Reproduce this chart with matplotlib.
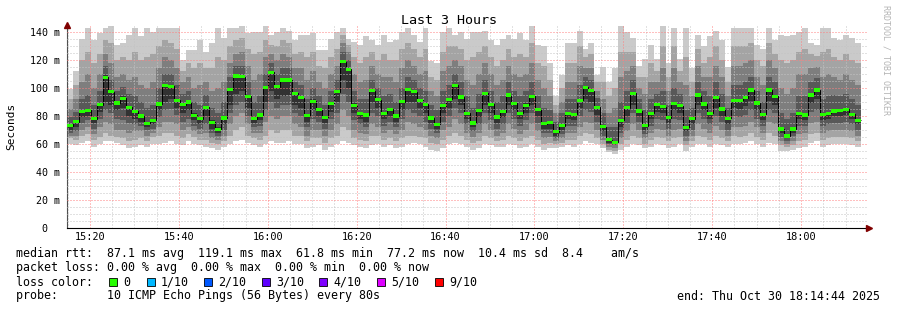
import numpy as np
import matplotlib
matplotlib.use("Agg")
import matplotlib.pyplot as plt
from matplotlib.patches import Rectangle

plt.rcParams['font.family'] = ['DejaVu Sans Mono']

# median rtt per 80 s step (ms)
median = [72.9, 76, 83.3, 84, 77.9, 87.9, 107.6, 97.4, 89.3, 92.6, 86.2, 83.3, 80, 74.8, 77.1, 88.6, 102, 101.2, 91.4, 87.9, 90, 80.5, 77.9, 86.4, 75.5, 70.5, 78.6,
          99.1, 108.6, 108.1, 94, 77.9, 80.7, 100.5, 111.2, 101, 105.7, 105.7, 96.4, 92.9, 80.2, 90.5, 84.5, 79, 89, 97.4, 118.8, 113.3, 87.6, 81.9, 80.7, 97.9, 91.7, 81.9,
          84.8, 80, 90.2, 98.8, 97.4, 91.4, 88.3, 78.6, 74, 87.4, 92.1, 102.1, 93.6, 81.9, 75, 84, 96.4, 88.3, 79.3, 82.9, 95, 89, 82.1, 87.6, 94, 84.8, 74.5,
          75.2, 68.8, 72.9, 81.9, 81.4, 91.2, 100.5, 97.9, 86.2, 72.4, 62.9, 61.4, 76.9, 86, 96.4, 83.6, 73.1, 81.9, 87.9, 86.7, 78.8, 88.8, 87.4, 72.1, 77.9, 95, 88.6,
          82.1, 93.1, 85, 78.3, 91.4, 91.4, 93.1, 98.6, 89.3, 81.2, 98.6, 94, 70.7, 65.7, 70.7, 81.9, 80.7, 95, 98.6, 81.4, 82.1, 83.6, 84, 84.8, 81.2, 76.9]

# sorted pings 1..10 per step (ms)
p1 = [60, 59, 61, 62, 58, 60, 62, 62, 61, 59, 57, 58, 59, 58, 60, 60, 61, 62, 60, 59, 62, 60, 59, 58, 57, 56, 58,
      60, 62, 63, 61, 59, 58, 60, 62, 61, 61, 62, 60, 60, 57, 58, 59, 56, 58, 60, 62, 61, 59, 58, 57, 59, 60, 58,
      59, 57, 58, 60, 61, 60, 58, 56, 55, 57, 60, 61, 60, 58, 56, 57, 60, 59, 58, 58, 60, 59, 57, 58, 60, 58, 56,
      57, 57, 58, 59, 58, 60, 62, 61, 60, 57, 54, 53, 56, 58, 60, 59, 57, 58, 60, 59, 57, 58, 60, 55, 58, 60, 60,
      58, 60, 59, 58, 60, 60, 61, 62, 60, 58, 61, 60, 55, 55, 56, 57, 58, 61, 62, 58, 59, 60, 60, 60, 59, 58]
p2 = [64, 63, 66, 67, 63, 65, 68, 66, 65, 64, 62, 63, 64, 62, 65, 66, 68, 68, 66, 64, 67, 65, 63, 63, 61, 60, 62,
      66, 70, 72, 66, 64, 63, 66, 70, 68, 70, 70, 66, 66, 62, 64, 64, 61, 64, 66, 72, 70, 64, 63, 62, 66, 66, 63,
      64, 62, 64, 66, 66, 65, 64, 61, 60, 63, 66, 68, 66, 63, 61, 62, 66, 64, 62, 63, 66, 64, 62, 64, 66, 63, 60,
      61, 60, 61, 63, 63, 66, 68, 67, 64, 60, 56, 55, 60, 63, 66, 64, 60, 63, 65, 64, 62, 64, 65, 59, 62, 66, 65,
      63, 66, 64, 62, 66, 65, 66, 68, 65, 63, 68, 66, 59, 58, 59, 62, 63, 67, 68, 63, 64, 65, 65, 65, 64, 62]
p3 = [66, 66, 70, 72, 67, 72, 76, 74, 70, 70, 68, 69, 69, 66, 68, 72, 76, 76, 74, 70, 72, 69, 67, 68, 64, 63, 66,
      74, 80, 82, 74, 68, 68, 76, 80, 78, 80, 80, 74, 72, 66, 70, 70, 66, 70, 74, 84, 80, 70, 68, 67, 74, 72, 68,
      70, 67, 70, 76, 74, 72, 70, 66, 64, 70, 72, 78, 74, 68, 65, 68, 74, 70, 66, 68, 74, 71, 67, 70, 74, 69, 64,
      65, 62, 64, 68, 68, 72, 76, 75, 70, 63, 58, 57, 64, 69, 74, 70, 64, 68, 71, 70, 66, 70, 71, 62, 66, 74, 71,
      68, 73, 70, 66, 72, 72, 73, 76, 72, 68, 76, 74, 62, 60, 62, 67, 68, 75, 76, 68, 69, 70, 70, 70, 69, 66]
p4 = [68, 69, 75, 77, 71, 78, 84, 82, 78, 77, 75, 74, 73, 70, 71, 79, 84, 85, 81, 76, 78, 73, 71, 74, 68, 66, 70,
      82, 88, 90, 80, 72, 73, 84, 90, 86, 88, 88, 82, 80, 72, 78, 76, 71, 78, 82, 96, 90, 77, 74, 72, 82, 80, 73,
      76, 72, 78, 84, 82, 80, 76, 71, 68, 76, 80, 86, 82, 74, 69, 74, 82, 77, 71, 74, 82, 78, 73, 77, 82, 75, 68,
      68, 64, 67, 73, 73, 80, 84, 83, 76, 66, 60, 59, 68, 75, 82, 76, 67, 73, 78, 77, 71, 78, 77, 66, 70, 82, 78,
      74, 80, 76, 70, 80, 79, 81, 84, 78, 73, 84, 82, 65, 62, 66, 73, 73, 83, 84, 73, 74, 75, 75, 76, 74, 70]
p5 = [70, 72, 79, 80, 75, 83, 90, 88, 84, 86, 80, 78, 76, 72, 74, 84, 90, 92, 86, 82, 84, 77, 74, 80, 71, 68, 74,
      88, 96, 98, 86, 75, 77, 90, 98, 92, 94, 95, 88, 86, 76, 84, 80, 75, 83, 90, 106, 100, 82, 78, 76, 90, 86, 78,
      80, 76, 84, 90, 90, 86, 82, 75, 71, 82, 86, 92, 88, 78, 72, 79, 88, 82, 75, 79, 88, 84, 78, 82, 88, 80, 71,
      71, 66, 70, 78, 77, 86, 92, 90, 81, 69, 61, 60, 72, 80, 88, 80, 70, 78, 83, 82, 75, 84, 82, 69, 74, 88, 84,
      78, 86, 80, 74, 86, 85, 87, 91, 84, 77, 91, 88, 68, 64, 68, 78, 77, 89, 92, 77, 78, 80, 80, 81, 78, 74]
p6 = [74, 77, 84, 85, 79, 89, 109, 98, 90, 94, 87, 84, 81, 76, 78, 90, 103, 102, 92, 89, 91, 82, 79, 87, 77, 72, 80,
      100, 110, 109, 95, 79, 82, 101, 112, 102, 107, 107, 97, 94, 81, 92, 86, 80, 90, 98, 120, 114, 89, 83, 82, 99, 93, 83,
      86, 81, 91, 100, 98, 92, 89, 80, 75, 88, 93, 103, 95, 83, 76, 85, 97, 89, 80, 84, 96, 90, 83, 89, 95, 86, 76,
      76, 70, 74, 83, 82, 92, 101, 99, 87, 73, 64, 62, 78, 87, 97, 85, 74, 83, 89, 88, 80, 90, 88, 73, 79, 96, 90,
      83, 94, 86, 79, 92, 92, 94, 100, 90, 82, 100, 95, 72, 67, 72, 83, 82, 96, 100, 82, 83, 85, 85, 86, 82, 78]
p7 = [79, 83, 92, 95, 88, 98, 116, 106, 98, 101, 96, 94, 90, 86, 88, 100, 110, 110, 102, 96, 98, 90, 88, 95, 86, 82, 90,
      108, 116, 116, 104, 90, 94, 110, 118, 110, 114, 114, 104, 102, 92, 100, 94, 88, 98, 106, 126, 120, 98, 92, 92, 106, 100, 94,
      96, 90, 100, 108, 106, 100, 98, 88, 84, 98, 102, 110, 104, 94, 86, 96, 106, 98, 90, 94, 104, 98, 94, 98, 104, 94, 86,
      84, 76, 82, 92, 92, 102, 108, 106, 93, 82, 72, 72, 90, 98, 106, 92, 84, 92, 96, 98, 88, 100, 96, 84, 86, 104, 98,
      94, 104, 96, 86, 102, 102, 104, 108, 98, 90, 108, 104, 82, 78, 82, 94, 94, 104, 107, 92, 94, 95, 94, 96, 92, 88]
p8 = [85, 92, 104, 110, 100, 110, 124, 118, 108, 110, 106, 108, 102, 100, 104, 114, 122, 120, 114, 104, 108, 100, 102, 104, 98, 100, 104,
      118, 124, 126, 116, 106, 110, 122, 124, 120, 124, 122, 114, 114, 106, 112, 104, 100, 110, 116, 132, 126, 110, 104, 106, 116, 110, 108,
      108, 104, 114, 120, 116, 110, 112, 98, 94, 112, 116, 120, 116, 106, 102, 110, 118, 110, 102, 106, 116, 110, 108, 110, 118, 106, 100,
      94, 82, 90, 104, 104, 116, 114, 114, 98, 92, 82, 86, 108, 112, 116, 100, 96, 104, 104, 114, 98, 114, 104, 102, 94, 116, 108,
      108, 116, 108, 94, 116, 116, 118, 120, 108, 102, 120, 114, 100, 96, 100, 110, 110, 114, 115, 108, 110, 108, 106, 110, 106, 102]
p9 = [92, 102, 120, 126, 118, 124, 134, 132, 120, 122, 120, 126, 120, 122, 124, 130, 134, 132, 128, 112, 118, 114, 118, 114, 114, 122, 120,
      130, 134, 136, 128, 124, 126, 134, 131, 130, 134, 132, 124, 126, 122, 126, 116, 114, 122, 128, 138, 131, 122, 118, 122, 126, 120, 124,
      120, 120, 128, 132, 128, 122, 128, 108, 106, 126, 130, 130, 128, 120, 122, 126, 130, 122, 116, 120, 128, 122, 124, 122, 132, 118, 116,
      106, 88, 100, 118, 118, 130, 122, 124, 104, 104, 94, 100, 126, 126, 126, 108, 108, 118, 112, 130, 108, 130, 112, 122, 104, 128, 118,
      122, 130, 120, 104, 130, 130, 130, 132, 120, 116, 132, 124, 120, 118, 120, 126, 128, 124, 123, 126, 128, 122, 120, 124, 120, 118]
p10 = [99, 112, 135, 143, 134, 139, 143, 144, 131, 132, 138, 143, 137, 143, 140, 143, 143, 143, 143, 120, 127, 127, 134, 126, 132, 143, 136,
       143, 143, 144, 139, 140, 140, 144, 138, 140, 143, 141, 134, 138, 138, 139, 127, 127, 135, 140, 143, 135, 133, 131, 137, 134, 131, 138,
       133, 134, 140, 143, 138, 133, 143, 119, 118, 140, 143, 138, 140, 135, 140, 140, 141, 134, 131, 135, 138, 135, 139, 134, 144, 131, 130,
       118, 94, 109, 132, 132, 141, 128, 132, 109, 115, 104, 114, 144, 140, 136, 116, 121, 131, 121, 144, 118, 143, 121, 143, 114, 138, 130,
       137, 141, 134, 115, 143, 143, 143, 143, 131, 128, 143, 134, 138, 137, 138, 140, 143, 132, 131, 143, 143, 136, 134, 138, 136, 132]

xtick_labels = ['15:20', '15:40', '16:00', '16:20', '16:40', '17:00', '17:20', '17:40', '18:00']
ytick_labels = ['  0', ' 20 m', ' 40 m', ' 60 m', ' 80 m', '100 m', '120 m', '140 m']
loss_labels = ['0', '1/10', '2/10', '3/10', '4/10', '5/10', '9/10']
loss_colors = ['#26ff00', '#00b8ff', '#0059ff', '#5e00ff', '#7e00ff', '#dd00ff', '#ff0000']

start = 14.83          # minutes after 15:00 of first sample
step = 80 / 60.0       # 80 s per sample
edges = start + step * np.arange(len(median) + 1)

W, H = 897, 310
fig = plt.figure(figsize=(W / 100, H / 100), dpi=100)
ax = fig.add_axes([67 / W, 82 / H, 800 / W, 203 / H])

# smoke: outermost pair lightest
pings = [p1, p2, p3, p4, p5, p6, p7, p8, p9, p10]
shades = ['#cacaca', '#a4a4a4', '#7e7e7e', '#585858', '#323232']
for i, c in enumerate(shades):
    ax.stairs(pings[9 - i], edges, baseline=pings[i], fill=True, color=c, lw=0, zorder=1)

med = np.array(median)
ax.stairs(med, edges, baseline=None, color='#000000', lw=0.7, zorder=2)
ax.stairs(med + 1.1, edges, baseline=med - 1.1, fill=True, color=loss_colors[0], lw=0, zorder=3)

ax.set_xlim(start, start + 180)
ax.set_ylim(0, 145)
ax.set_xticks(np.arange(20, 181, 20))
ax.set_xticklabels(xtick_labels)
ax.set_xticks(np.arange(15, 195, 5), minor=True)
ax.set_yticks(np.arange(0, 141, 20))
ax.set_yticklabels(ytick_labels, ha='left')
ax.set_yticks(np.arange(5, 145, 5), minor=True)
ax.set_axisbelow(False)
ax.grid(which='minor', color='#c4c4c4', lw=0.72, ls=(0, (1, 2)))
ax.grid(which='major', color='#ff8080', lw=0.72, ls=(0, (1, 2)))
ax.tick_params(which='both', length=0)
ax.tick_params(axis='x', labelsize=7.4, pad=3)
ax.tick_params(axis='y', labelsize=7.2, pad=26.6)

for s in ['top', 'right']:
    ax.spines[s].set_visible(False)
ax.spines['left'].set_color('#505050')
ax.spines['left'].set_linewidth(0.8)
ax.spines['bottom'].set_color('black')
ax.spines['bottom'].set_linewidth(0.8)
ax.plot([start], [145], marker='^', color='#800000', ms=4, clip_on=False, zorder=5)
ax.plot([start + 180.5], [0], marker='>', color='#800000', ms=4, clip_on=False, zorder=5)


def fy(y):
    return 1 - y / H


fig.text(0.5, fy(20), 'Last 3 Hours', ha='center', va='center', fontsize=9.6)
fig.text(11 / W, fy(126), 'Seconds', rotation=90, ha='center', va='center', fontsize=8)
fig.text(886 / W, fy(60), 'RRDTOOL / TOBI OETIKER', rotation=270, ha='center', va='center',
         fontsize=6, color='#b4b4b4')

fs = 8.35
fig.text(16 / W, fy(254), 'median rtt:  87.1 ms avg  119.1 ms max  61.8 ms min  77.2 ms now  10.4 ms sd  8.4    am/s',
         va='center', fontsize=fs)
fig.text(16 / W, fy(268), 'packet loss: 0.00 % avg  0.00 % max  0.00 % min  0.00 % now',
         va='center', fontsize=fs)
fig.text(16 / W, fy(282), 'loss color:', va='center', fontsize=fs)
sw_x = [109, 147, 204, 262, 319, 377, 435]
for x, lab, col in zip(sw_x, loss_labels, loss_colors):
    fig.add_artist(Rectangle((x / W, fy(286)), 8 / W, 8 / H, transform=fig.transFigure,
                             facecolor=col, edgecolor='black', lw=0.6))
    fig.text((x + 14) / W, fy(282), lab, va='center', fontsize=fs)
fig.text(16 / W, fy(296), 'probe:       10 ICMP Echo Pings (56 Bytes) every 80s', va='center', fontsize=fs)
fig.text(880 / W, fy(296), 'end: Thu Oct 30 18:14:44 2025', ha='right', va='center', fontsize=fs)

fig.savefig('out.png', dpi=100, facecolor='white')
